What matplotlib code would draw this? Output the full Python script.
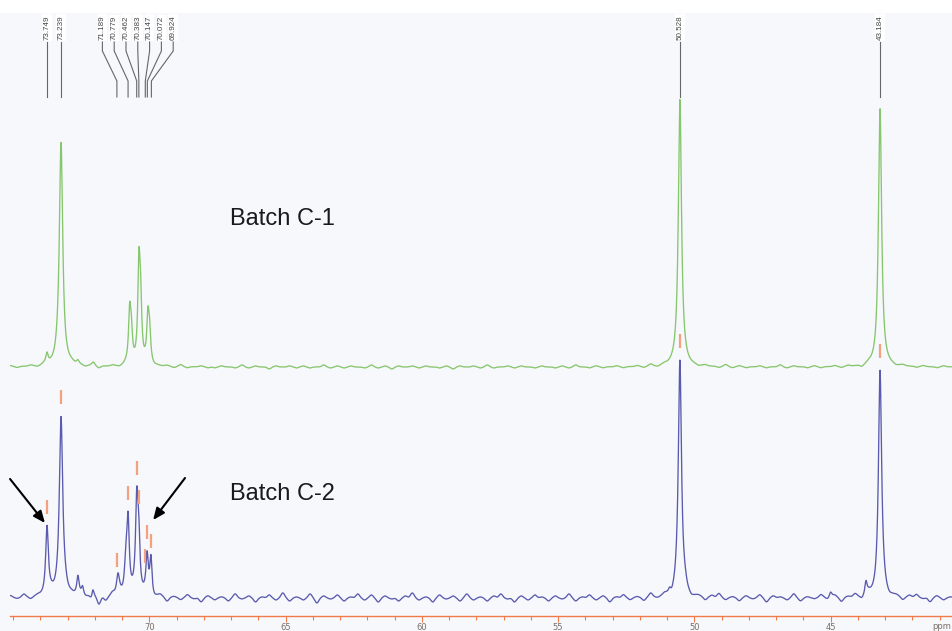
import numpy as np
import matplotlib
matplotlib.use("Agg")
import matplotlib.pyplot as plt
from matplotlib.patches import Rectangle

# ---------------- data ----------------
# peak tables: position (ppm), height (intensity units), half width (ppm)
c1_ppm    = [73.754, 73.239, 72.62, 72.05, 70.72, 70.66, 70.38, 70.32, 70.05, 69.99, 50.528, 43.184]
c1_height = [10,     224,    4,     3,     50,    28,    94,    55,    44,    28,    268,    258]
c1_width  = [0.05,   0.075,  0.06,  0.06,  0.05,  0.05,  0.05,  0.05,  0.05,  0.05,  0.07,   0.07]

c2_ppm    = [73.754, 73.239, 72.62, 72.45, 72.07, 71.15, 70.86, 70.78, 70.46, 70.39, 70.08, 69.94, 50.90, 50.528, 45.00, 43.70, 43.184]
c2_height = [69,     180,    17,    9,     11,    20,    24,    72,    88,    52,    36,    38,    6,     236,    6,     13,    226]
c2_width  = [0.06,   0.075,  0.05,  0.05,  0.05,  0.065, 0.055, 0.055, 0.055, 0.055, 0.05,  0.05,  0.06,  0.07,   0.06,  0.05,  0.07]

# baseline ripple (noise) amplitudes, one every 0.25 ppm starting at 75.1 ppm
c2_ripple = [2, -1, 3, -2, 1, -1, 2, 0, 3, 1,
             2, -1, -5, -8, -4, 3, 2, 4, 1, -2,
             3, -3, 2, -4, 1, -2, 3, -1, -4, 2,
             -2, 1, -3, 4, -1, 2, -4, 1, 3, -2,
             5, -3, 1, -2, 4, -5, 2, -1, 3, -3,
             1, 4, -2, 3, -4, 2, -1, -3, 2, 5,
             -2, 1, -4, 3, -1, 2, -3, 4, -2, 1,
             -3, 2, 4, -1, -4, 2, -2, 3, 1, -3,
             2, -1, 4, -3, 1, 3, -2, 2, -4, 1,
             3, -2, 1, -3, 4, -1, 2, -4, 3, 5,
             -2, 1, -3, 2, 4, -2, 1, -3, 2, -1,
             3, -4, 2, 1, -2, 4, -3, 1, -1, 3,
             -2, 2, -4, 1, 3, -3, 2, -1, 4, -2,
             1, -3, 2, 3, -1, -4, 2, -2, 1]
c1_ripple = [1, -1, 0, 1, -1, 1, 0, 2, -1, 1,
             0, -1, 1, -2, 0, 1, -1, 1, 0, -1,
             1, -1, 0, 1, -1, 2, -1, 0, 1, -1,
             -1, 1, 0, -1, 2, -1, 1, 0, -2, 1,
             0, 1, -1, 1, -1, 0, 2, -1, 1, -1,
             1, 0, -1, 2, -1, 1, -2, 1, 0, 1,
             -1, 1, 0, -1, 1, -2, 1, 0, 1, -1,
             2, -1, 0, 1, -1, 1, 0, -1, 1, 0,
             -1, 1, -1, 2, 0, -1, 1, -1, 0, 1,
             -1, 0, 1, -1, 2, -1, 1, 0, -1, 1,
             0, -1, 1, 0, -1, 2, -1, 1, -1, 0,
             1, -1, 0, 2, -1, 1, 0, -1, 1, -1,
             0, 1, -1, 1, 0, -2, 1, -1, 1, 0,
             -1, 1, 0, -1, 1, 0, -1, 1, 0]

# peak-pick labels (Batch C-2)
pick_ppm = [73.749, 73.239, 71.189, 70.779, 70.462, 70.383, 70.147, 70.072, 69.924, 50.528, 43.184]
pick_labels = ["73.749", "73.239", "71.189", "70.779", "70.462", "70.383",
               "70.147", "70.072", "69.924", "50.528", "43.184"]

series_names = ["Batch C-1", "Batch C-2"]
tick_major = [70, 65, 60, 55, 50, 45]

# ---------------- figure ----------------
BG = "#f7f8fc"
GREEN = "#86c66c"
BLUE = "#5a5aae"
ORANGE = "#f07a4a"
PICK = "#f4a27e"

W, H = 952, 631
fig = plt.figure(figsize=(W / 100, H / 100), dpi=100, facecolor=BG)
fig.patches.append(Rectangle((0, 1 - 13 / H), 1, 13 / H, transform=fig.transFigure,
                             facecolor="white", edgecolor="none", zorder=0))
ax = fig.add_axes([10 / W, 15 / H, 942 / W, 603 / H])
ax.set_facecolor(BG)
ax.set_xlim(75.112, 40.543)
ax.set_ylim(1, 604)

x = np.linspace(75.112, 40.543, 6000)

def spectrum(pos, hts, wds, ripple, base):
    y = np.full_like(x, float(base))
    for p, h, w in zip(pos, hts, wds):
        y += h / (1.0 + ((x - p) / w) ** 2)
    rp = 75.1 - 0.25 * np.arange(len(ripple))
    for p, a in zip(rp, ripple):
        y += a * np.exp(-0.5 * ((x - p) / 0.065) ** 2)
    return y

BASE1, BASE2 = 250, 19
y1 = spectrum(c1_ppm, c1_height, c1_width, c1_ripple, BASE1)
y2 = spectrum(c2_ppm, c2_height, c2_width, c2_ripple, BASE2)

ax.plot(x, y2, color=BLUE, lw=0.95, zorder=2)
ax.plot(x, y1, color=GREEN, lw=0.95, zorder=3)

# peak-pick markers above the C-2 peaks
for p in pick_ppm:
    yv = np.interp(p, x[::-1], y2[::-1])
    ax.plot([p, p], [yv + 12, yv + 26], color=PICK, lw=1.6, solid_capstyle="butt", zorder=4)

# labels on top with leader lines
fig.canvas.draw()
td = ax.transData
inv = td.inverted()
group = pick_ppm[2:9]
gx = [td.transform((p, 0))[0] for p in group]
center = np.mean(gx)
spacing = 11.8
label_disp = {}
for p in pick_ppm:
    if p in group:
        k = group.index(p)
        label_disp[p] = center + (k - 3) * spacing
    else:
        label_disp[p] = td.transform((p, 0))[0]

y_text, y_a, y_b, y_c = 577, 566, 536, 520
for p, lab in zip(pick_ppm, pick_labels):
    lx = inv.transform((label_disp[p], 0))[0]
    ax.plot([lx, lx, p, p], [y_text - 2, y_a, y_b, y_c], color="#666666", lw=0.8, zorder=1)
    ax.text(lx, y_text, lab, rotation=90, ha="center", va="bottom", fontsize=5.8,
            family="Liberation Sans", color="#444444",
            bbox=dict(boxstyle="square,pad=0.15", facecolor="white", edgecolor="none"))

# series names
ax.text(67.04, 392, series_names[0], fontsize=17, family="Liberation Sans", color="#1a1a1a",
        ha="left", va="baseline")
ax.text(67.04, 117, series_names[1], fontsize=17, family="Liberation Sans", color="#1a1a1a",
        ha="left", va="baseline")

# arrows pointing at the impurity peaks
arrow_kw = dict(arrowstyle="-|>,head_length=0.7,head_width=0.3", color="black", lw=1.5,
                shrinkA=0, shrinkB=0)
ax.annotate("", xy=(73.83, 94), xytext=(75.11, 138), arrowprops=arrow_kw)
ax.annotate("", xy=(69.86, 97), xytext=(68.69, 139), arrowprops=arrow_kw)

# axis
for s in ["top", "left", "right"]:
    ax.spines[s].set_visible(False)
ax.spines["bottom"].set_color(ORANGE)
ax.spines["bottom"].set_linewidth(1.0)
ax.set_yticks([])
ax.set_xticks(tick_major)
ax.set_xticks(np.arange(41, 76, 1), minor=True)
ax.tick_params(axis="x", which="both", direction="out", color=ORANGE, width=0.8,
               labelsize=6, labelcolor="#7a6e66", pad=0.8)
ax.tick_params(axis="x", which="major", length=4)
ax.tick_params(axis="x", which="minor", length=3.2)
fig.text(951 / W, 1 - 622 / H, "ppm", fontsize=6, color="#7a6e66", ha="right", va="top")

fig.savefig("out.png", dpi=100, facecolor=BG)
